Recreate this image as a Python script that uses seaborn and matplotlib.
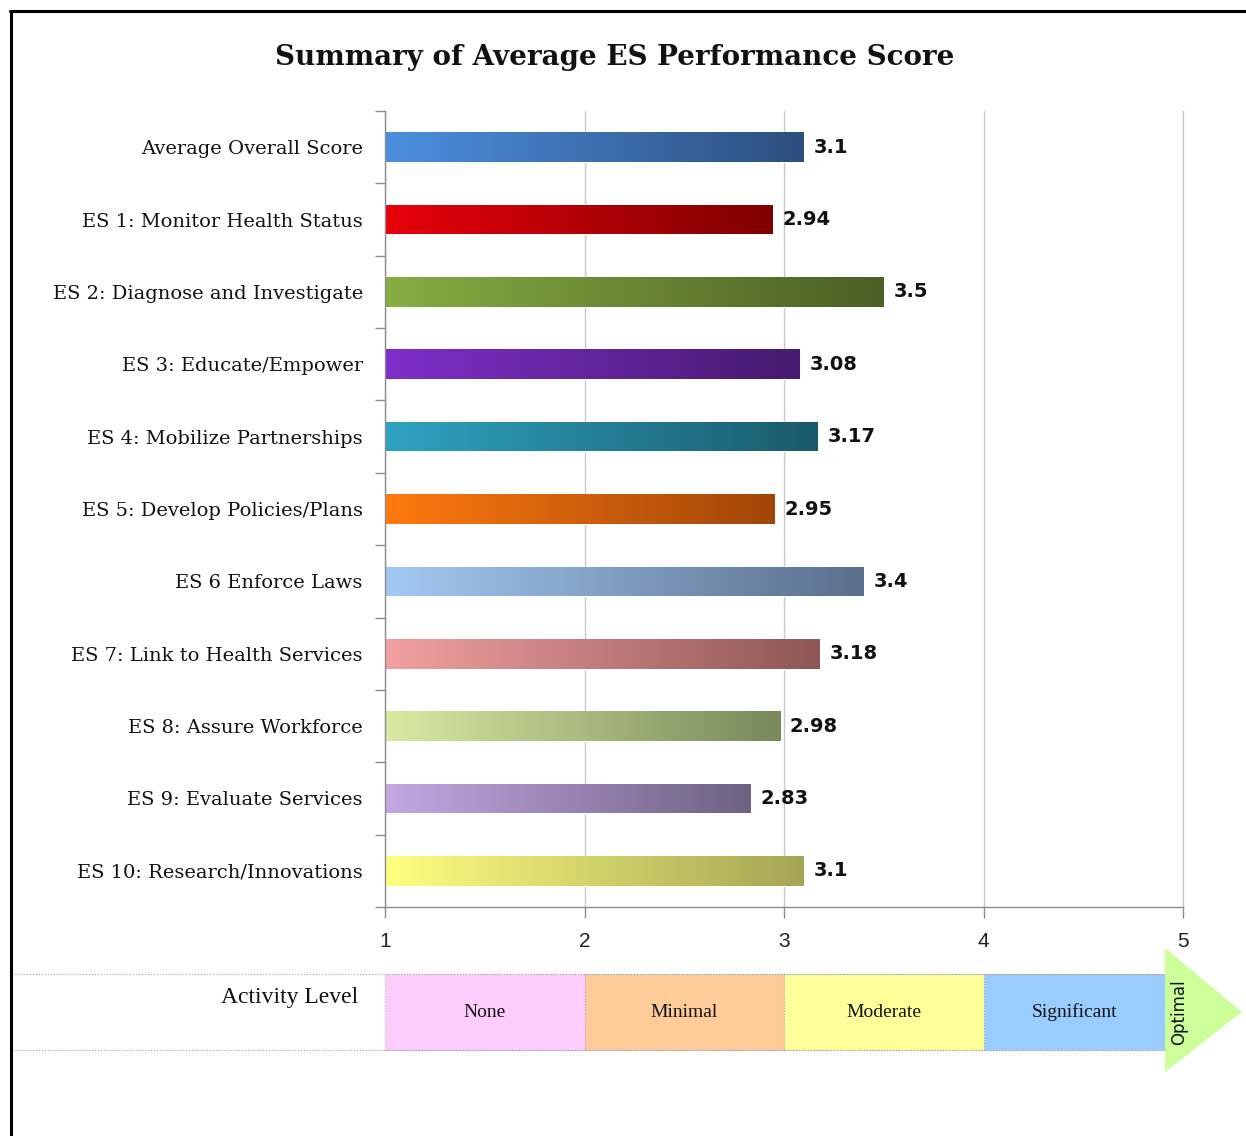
"""
Summary of Average ES Performance Score - barras horizontais com gradiente
e faixa de "Activity Level" logo abaixo do eixo.
"""

import matplotlib

matplotlib.use("Agg")  # sem display

import matplotlib.pyplot as plt
import matplotlib.transforms as mtransforms
import numpy as np
import seaborn as sns
from matplotlib.colors import to_rgb
from matplotlib.lines import Line2D
from matplotlib.patches import Polygon, Rectangle

TITLE = "Summary of Average ES Performance Score"

CATEGORIES = [
    "Average Overall Score",
    "ES 1: Monitor Health Status",
    "ES 2: Diagnose and Investigate",
    "ES 3: Educate/Empower",
    "ES 4: Mobilize Partnerships",
    "ES 5: Develop Policies/Plans",
    "ES 6 Enforce Laws",
    "ES 7: Link to Health Services",
    "ES 8: Assure Workforce",
    "ES 9: Evaluate Services",
    "ES 10: Research/Innovations",
]
SCORES = [3.1, 2.94, 3.5, 3.08, 3.17, 2.95, 3.4, 3.18, 2.98, 2.83, 3.1]
VALUE_LABELS = ["3.1", "2.94", "3.5", "3.08", "3.17", "2.95", "3.4",
                "3.18", "2.98", "2.83", "3.1"]
X_TICKS = [1, 2, 3, 4, 5]

LEVEL_TITLE = "Activity Level"
LEVEL_NAMES = ["None", "Minimal", "Moderate", "Significant"]
LEVEL_STARTS = [1, 2, 3, 4]
LEVEL_ENDS = [2, 3, 4, 4.91]
TOP_LEVEL = "Optimal"

# cores do gradiente (esquerda clara -> direita escura)
COLORS_LIGHT = ["#4C8FDF", "#E8000B", "#87AD43", "#7F2FC9", "#2FA3C2", "#FF7A0F",
                "#A3C9F3", "#F2A0A0", "#D9EBA3", "#C3A8E3", "#FFFF80"]
COLORS_DARK = ["#2D4F7F", "#7F0000", "#4B5F24", "#461A6E", "#1A5A6B", "#A04508",
               "#5A6F8C", "#8E5656", "#77895A", "#6E6282", "#A5A556"]
LEVEL_COLORS = ["#FFCCFF", "#FFCC99", "#FFFF99", "#99CCFF"]
OPTIMAL_COLOR = "#CCFF99"

SERIF = ["DejaVu Serif"]
SANS = ["Liberation Sans", "DejaVu Sans"]


def _gradiente(ax, patch, cor_a, cor_b, x_min):
    """Pinta a barra com um gradiente horizontal recortado pelo patch."""
    x0 = max(patch.get_x(), x_min)
    x1 = patch.get_x() + patch.get_width()
    y0 = patch.get_y()
    y1 = y0 + patch.get_height()
    a, b = np.array(to_rgb(cor_a)), np.array(to_rgb(cor_b))
    t = np.linspace(0, 1, 256)[None, :, None]
    img = a + (b - a) * t
    im = ax.imshow(img, extent=[x0, x1, y1, y0], aspect="auto",
                   interpolation="bilinear", zorder=patch.get_zorder() + 0.1)
    im.set_clip_path(patch)


def main():
    sns.set_theme(style="white")
    plt.rcParams["font.family"] = SERIF

    fig = plt.figure(figsize=(12.46, 11.36), dpi=100)
    ax = fig.add_axes([0.30899, 0.20158, 0.64045, 0.70070])

    sns.barplot(x=SCORES, y=CATEGORIES, hue=CATEGORIES, palette=COLORS_LIGHT,
                orient="h", width=0.41, legend=False, ax=ax, zorder=2)

    for patch, c1, c2 in zip(ax.patches, COLORS_LIGHT, COLORS_DARK):
        _gradiente(ax, patch, c1, c2, X_TICKS[0])

    ax.set_xlim(X_TICKS[0], X_TICKS[-1])
    ax.set_ylim(len(CATEGORIES) - 0.5, -0.5)

    # rótulos de valor
    for i, (v, txt) in enumerate(zip(SCORES, VALUE_LABELS)):
        ax.text(v + 0.05, i, txt, ha="left", va="center", fontsize=14,
                fontweight="bold", family=["DejaVu Sans"], color="#111111")

    # eixos estilo Excel
    ax.set_xticks(X_TICKS)
    ax.set_xticklabels([str(t) for t in X_TICKS], family=SANS, fontsize=15,
                       color="#222222")
    ax.tick_params(axis="x", bottom=True, direction="out", length=8, width=1,
                   color="#8C8C8C", pad=10)
    ax.set_yticks(range(len(CATEGORIES)))
    ax.set_yticklabels(CATEGORIES, fontsize=14, color="#111111")
    ax.tick_params(axis="y", which="major", length=0, pad=16)
    ax.set_yticks(np.arange(-0.5, len(CATEGORIES), 1), minor=True)
    ax.tick_params(axis="y", which="minor", direction="out", length=7,
                   width=1, color="#8C8C8C", left=True)
    ax.set_xlabel("")
    ax.set_ylabel("")

    ax.grid(axis="x", color="#C8C8C8", linewidth=1)
    ax.set_axisbelow(True)
    ax.spines["top"].set_visible(False)
    ax.spines["right"].set_color("#C8C8C8")
    ax.spines["right"].set_linewidth(1)
    for side in ["left", "bottom"]:
        ax.spines[side].set_color("#8C8C8C")
        ax.spines[side].set_linewidth(1)

    fig.text(0.4936, 0.949, TITLE, ha="center", va="center", fontsize=20,
             fontweight="bold", color="#111111")

    # faixa "Activity Level" (x em dados do eixo, y em fração da figura)
    trans = mtransforms.blended_transform_factory(ax.transData, fig.transFigure)
    band_bot, band_top = 0.0757, 0.1426
    for name, s, e, cor in zip(LEVEL_NAMES, LEVEL_STARTS, LEVEL_ENDS, LEVEL_COLORS):
        fig.add_artist(Rectangle((s, band_bot), e - s, band_top - band_bot,
                                 transform=trans, facecolor=cor,
                                 edgecolor="#B0B0B0", linewidth=0.8,
                                 linestyle=":"))
        fig.text((s + e) / 2, (band_bot + band_top) / 2, name, transform=trans,
                 ha="center", va="center", fontsize=14,
                 family=["Liberation Serif"], color="#111111")

    fig_px = fig.transFigure
    for y in (band_bot, band_top):
        fig.add_artist(Line2D([12 / 1246, 1165 / 1246], [y, y], transform=fig_px,
                              color="#A0A0A0", linewidth=0.8, linestyle=":"))

    tip = LEVEL_ENDS[-1] + 0.385
    fig.add_artist(Polygon([(LEVEL_ENDS[-1], 1 - 948 / 1136),
                            (tip, (band_bot + band_top) / 2),
                            (LEVEL_ENDS[-1], 1 - 1072 / 1136)],
                           closed=True, transform=trans,
                           facecolor=OPTIMAL_COLOR, edgecolor="none"))
    fig.text(LEVEL_ENDS[-1] + 0.07, (band_bot + band_top) / 2, TOP_LEVEL,
             transform=trans, rotation=90, ha="center", va="center",
             fontsize=12, family=["DejaVu Sans"], color="#111111")

    fig.text(358 / 1246, 1 - 998 / 1136, LEVEL_TITLE, ha="right", va="center",
             fontsize=17, family=["Liberation Serif"], color="#111111")

    # moldura preta (topo e esquerda)
    fig.add_artist(Line2D([10 / 1246, 1.0], [1 - 11 / 1136] * 2,
                          transform=fig_px, color="black", linewidth=2.2))
    fig.add_artist(Line2D([11 / 1246] * 2, [0.0, 1 - 11 / 1136],
                          transform=fig_px, color="black", linewidth=2.2))

    fig.savefig("out.png", dpi=100, facecolor="white")
    plt.close(fig)


if __name__ == "__main__":
    main()
